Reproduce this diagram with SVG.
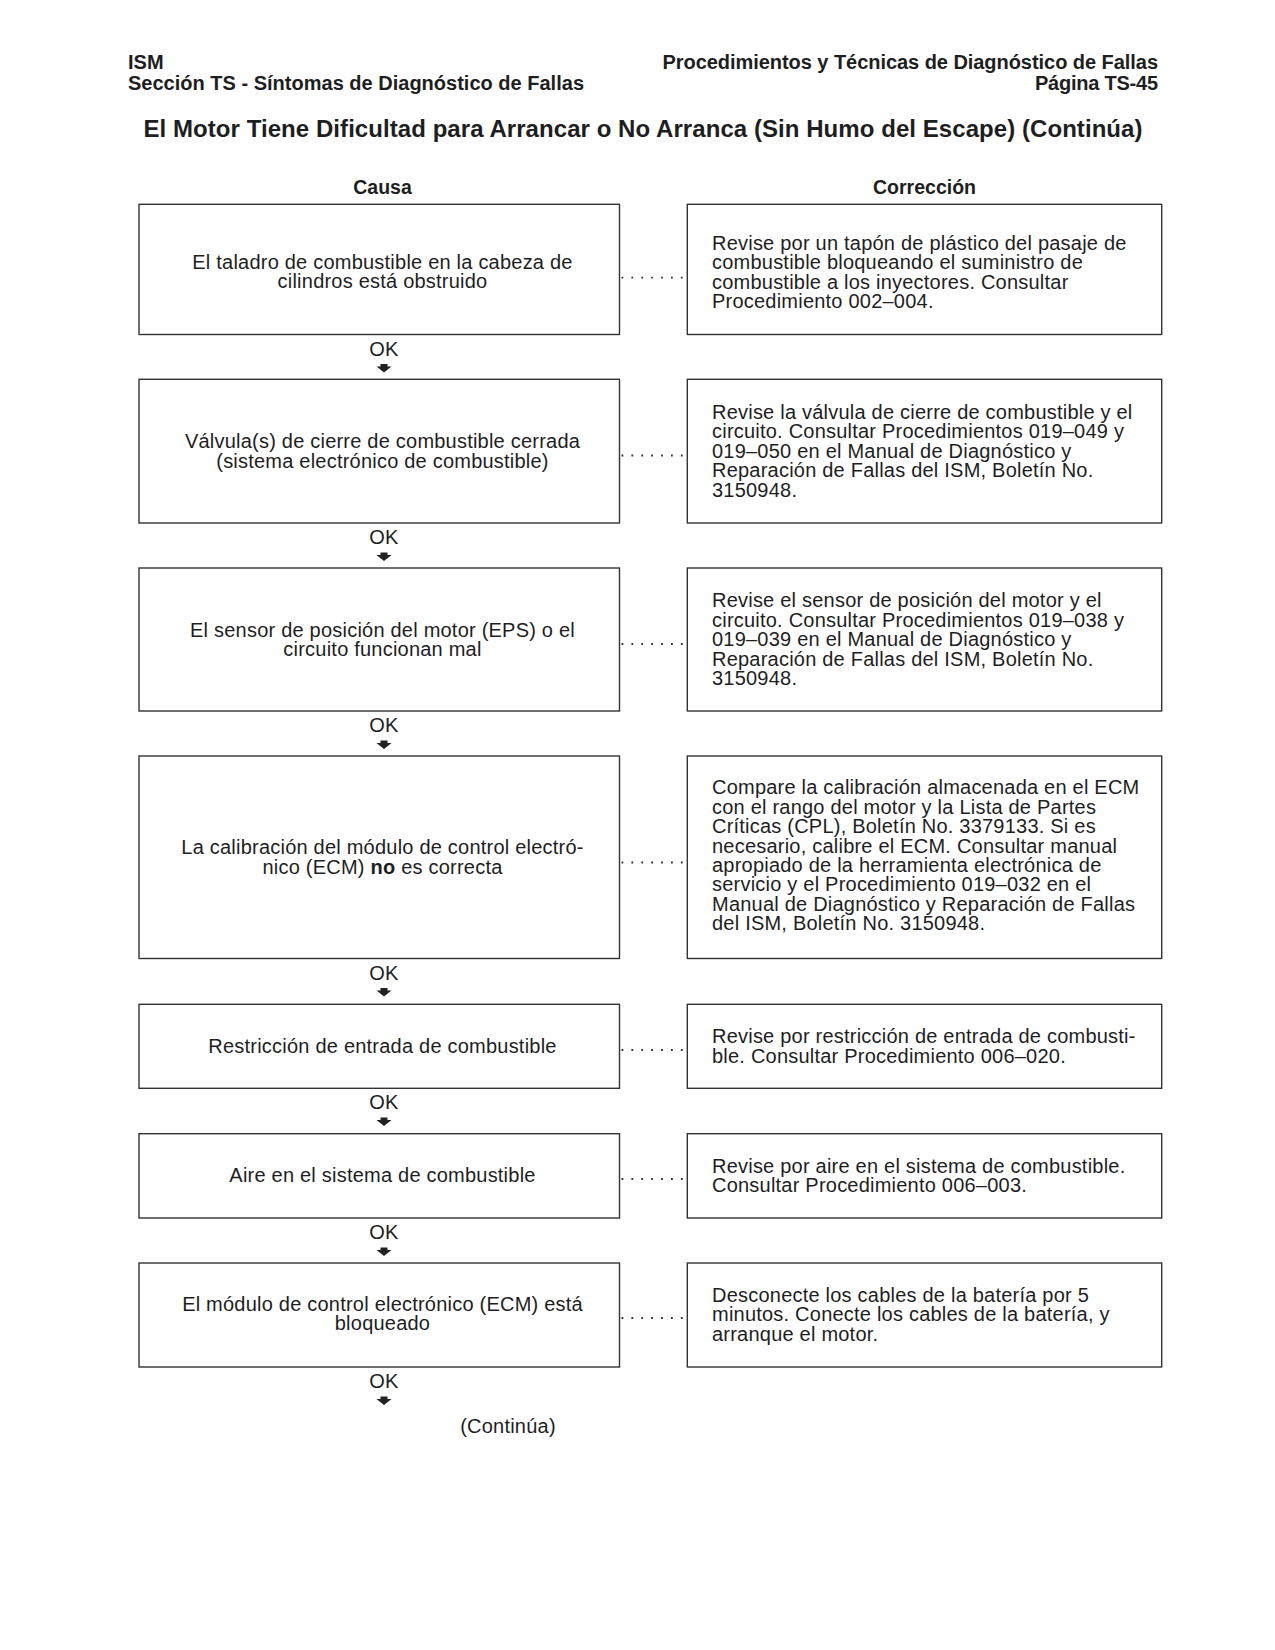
<svg xmlns="http://www.w3.org/2000/svg" width="1275" height="1650" viewBox="0 0 1275 1650">
<style>
.t{font-family:"Liberation Sans",Arial,Helvetica,sans-serif;font-size:20px;fill:#1e1e1e;letter-spacing:0.22px}
.c{text-anchor:middle}
.b{font-weight:bold}
.h{font-family:"Liberation Sans",Arial,Helvetica,sans-serif;font-weight:bold;fill:#1e1e1e}
.box{fill:#fff;stroke:#333;stroke-width:1.4}
.dot{stroke:#333;stroke-width:1.8;stroke-dasharray:1.8 8.1;fill:none}
.arr{fill:#222}
</style>
<rect width="1275" height="1650" fill="#fff"/>
<g id="header">
<text class="h" x="128" y="69" font-size="20">ISM</text>
<text class="h" x="128" y="89.5" font-size="20" textLength="456" lengthAdjust="spacing">Sección TS - Síntomas de Diagnóstico de Fallas</text>
<text class="h" x="1158" y="69" font-size="20" text-anchor="end" textLength="495.5" lengthAdjust="spacing">Procedimientos y Técnicas de Diagnóstico de Fallas</text>
<text class="h" x="1158" y="89.5" font-size="20" text-anchor="end" textLength="123" lengthAdjust="spacing">Página TS-45</text>
<text class="h" x="143.5" y="137" font-size="24" textLength="999" lengthAdjust="spacing">El Motor Tiene Dificultad para Arrancar o No Arranca (Sin Humo del Escape) (Continúa)</text>
<text class="h c" x="382.5" y="193.5" font-size="19.5">Causa</text>
<text class="h c" x="924.5" y="193.5" font-size="19.5">Corrección</text>
</g>
<g id="connectors">
<path class="dot" d="M621.5 277.7H684M621.5 455.5H684M621.5 644H684M621.5 862.5H684M621.5 1050H684M621.5 1179H684M621.5 1318H684"/>
<g class="t c">
<text x="384" y="355.5">OK</text>
<text x="384" y="544">OK</text>
<text x="384" y="732">OK</text>
<text x="384" y="979.5">OK</text>
<text x="384" y="1109">OK</text>
<text x="384" y="1239">OK</text>
<text x="384" y="1388">OK</text>
</g>
<path class="arr" d="M380.5 364h7v2.5h4l-7.5 6l-7.5-6h4z"/>
<path class="arr" d="M380.5 552.5h7v2.5h4l-7.5 6l-7.5-6h4z"/>
<path class="arr" d="M380.5 740.5h7v2.5h4l-7.5 6l-7.5-6h4z"/>
<path class="arr" d="M380.5 988h7v2.5h4l-7.5 6l-7.5-6h4z"/>
<path class="arr" d="M380.5 1117.5h7v2.5h4l-7.5 6l-7.5-6h4z"/>
<path class="arr" d="M380.5 1247.5h7v2.5h4l-7.5 6l-7.5-6h4z"/>
<path class="arr" d="M380.5 1396.5h7v2.5h4l-7.5 6l-7.5-6h4z"/>
</g>
<g id="cause1"><rect class="box" x="139" y="204.3" width="480.5" height="130.2"/>
<text class="t c" x="382.5" y="269">El taladro de combustible en la cabeza de</text>
<text class="t c" x="382.5" y="288.4">cilindros está obstruido</text></g>
<g id="fix1"><rect class="box" x="687.3" y="204.3" width="474.4" height="130.2"/>
<g class="t"><text x="712" y="250">Revise por un tapón de plástico del pasaje de</text>
<text x="712" y="269.4">combustible bloqueando el suministro de</text>
<text x="712" y="288.8">combustible a los inyectores. Consultar</text>
<text x="712" y="308.2">Procedimiento 002–004.</text></g></g>
<g id="cause2"><rect class="box" x="139" y="379.3" width="480.5" height="143.7"/>
<text class="t c" x="382.5" y="448.3">Válvula(s) de cierre de combustible cerrada</text>
<text class="t c" x="382.5" y="467.7">(sistema electrónico de combustible)</text></g>
<g id="fix2"><rect class="box" x="687.3" y="379.3" width="474.4" height="143.7"/>
<g class="t"><text x="712" y="419">Revise la válvula de cierre de combustible y el</text>
<text x="712" y="438.4">circuito. Consultar Procedimientos 019–049 y</text>
<text x="712" y="457.8">019–050 en el Manual de Diagnóstico y</text>
<text x="712" y="477.2">Reparación de Fallas del ISM, Boletín No.</text>
<text x="712" y="496.6">3150948.</text></g></g>
<g id="cause3"><rect class="box" x="139" y="568" width="480.5" height="143"/>
<text class="t c" x="382.5" y="636.7">El sensor de posición del motor (EPS) o el</text>
<text class="t c" x="382.5" y="656.1">circuito funcionan mal</text></g>
<g id="fix3"><rect class="box" x="687.3" y="568" width="474.4" height="143"/>
<g class="t"><text x="712" y="607.3">Revise el sensor de posición del motor y el</text>
<text x="712" y="626.7">circuito. Consultar Procedimientos 019–038 y</text>
<text x="712" y="646.1">019–039 en el Manual de Diagnóstico y</text>
<text x="712" y="665.5">Reparación de Fallas del ISM, Boletín No.</text>
<text x="712" y="684.9">3150948.</text></g></g>
<g id="cause4"><rect class="box" x="139" y="756" width="480.5" height="202.5"/>
<text class="t c" x="382.5" y="854.3">La calibración del módulo de control electró-</text>
<text class="t c" x="382.5" y="873.7">nico (ECM) <tspan class="b">no</tspan> es correcta</text></g>
<g id="fix4"><rect class="box" x="687.3" y="756" width="474.4" height="202.5"/>
<g class="t"><text x="712" y="794.3">Compare la calibración almacenada en el ECM</text>
<text x="712" y="813.7">con el rango del motor y la Lista de Partes</text>
<text x="712" y="833.1">Críticas (CPL), Boletín No. 3379133. Si es</text>
<text x="712" y="852.5">necesario, calibre el ECM. Consultar manual</text>
<text x="712" y="871.9">apropiado de la herramienta electrónica de</text>
<text x="712" y="891.3">servicio y el Procedimiento 019–032 en el</text>
<text x="712" y="910.7">Manual de Diagnóstico y Reparación de Fallas</text>
<text x="712" y="930.1">del ISM, Boletín No. 3150948.</text></g></g>
<g id="cause5"><rect class="box" x="139" y="1004.3" width="480.5" height="84"/>
<text class="t c" x="382.5" y="1052.8">Restricción de entrada de combustible</text></g>
<g id="fix5"><rect class="box" x="687.3" y="1004.3" width="474.4" height="84"/>
<g class="t"><text x="712" y="1043.3">Revise por restricción de entrada de combusti-</text>
<text x="712" y="1062.7">ble. Consultar Procedimiento 006–020.</text></g></g>
<g id="cause6"><rect class="box" x="139" y="1133.7" width="480.5" height="84.3"/>
<text class="t c" x="382.5" y="1182.4">Aire en el sistema de combustible</text></g>
<g id="fix6"><rect class="box" x="687.3" y="1133.7" width="474.4" height="84.3"/>
<g class="t"><text x="712" y="1172.7">Revise por aire en el sistema de combustible.</text>
<text x="712" y="1192.1">Consultar Procedimiento 006–003.</text></g></g>
<g id="cause7"><rect class="box" x="139" y="1263" width="480.5" height="104"/>
<text class="t c" x="382.5" y="1311">El módulo de control electrónico (ECM) está</text>
<text class="t c" x="382.5" y="1330.4">bloqueado</text></g>
<g id="fix7"><rect class="box" x="687.3" y="1263" width="474.4" height="104"/>
<g class="t"><text x="712" y="1301.7">Desconecte los cables de la batería por 5</text>
<text x="712" y="1321.1">minutos. Conecte los cables de la batería, y</text>
<text x="712" y="1340.5">arranque el motor.</text></g></g>
<g id="footer"><text class="t c" x="508" y="1433">(Continúa)</text></g>
</svg>
